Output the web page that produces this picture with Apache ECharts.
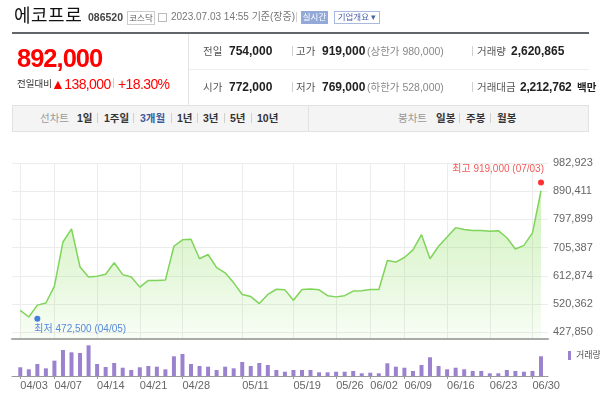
<!DOCTYPE html>
<html>
<head>
<meta charset="utf-8">
<script src="https://cdn.jsdelivr.net/npm/echarts@6/dist/echarts.min.js"></script>
<style>
  html, body { margin: 0; padding: 0; background: #fff; }
  body { width: 600px; height: 398px; overflow: hidden; position: relative;
         font-family: "Liberation Sans", "Noto Sans CJK KR", sans-serif; }
  #chart { position: absolute; left: 0; top: 0; width: 600px; height: 398px; }
  .t { position: absolute; white-space: nowrap; line-height: 1; z-index: 2; }
  .b { font-weight: bold; }
  .red { color: #f00; }
  .lbl { font-size: 10.5px; color: #555; }
  .num { font-size: 12px; font-weight: bold; color: #222; }
  .gray { font-size: 10.5px; color: #888; }
  .sep { position: absolute; width: 1px; height: 10px; background: #d0d0d0; z-index: 2; }
  .tb { font-size: 10.5px; color: #333; font-weight: bold; }
</style>
</head>
<body>
<!-- header -->
<div class="t" style="left:14px;top:7px;font-size:18px;color:#111;letter-spacing:0.5px;">에코프로</div>
<div class="t b" style="left:88px;top:12px;font-size:10.5px;color:#444;">086520</div>
<div class="t" style="left:127px;top:11px;width:26px;height:12px;border:1px solid #ccc;font-size:8.5px;color:#555;text-align:center;line-height:12px;">코스닥</div>
<div class="t" style="left:158px;top:13px;width:7px;height:7px;border:1px solid #bbb;"></div>
<div class="t" style="left:171px;top:12px;font-size:10px;color:#777;">2023.07.03 14:55 기준(장중)</div>
<div class="sep" style="left:296px;top:12px;"></div>
<div class="t" style="left:301px;top:11px;width:27px;height:13px;background:#93a9d8;color:#fff;font-size:8.5px;text-align:center;line-height:13px;">실시간</div>
<div class="t" style="left:334px;top:11px;width:44px;height:11px;border:1px solid #a9b9e0;color:#4a63a8;font-size:8.5px;text-align:center;line-height:11px;">기업개요 ▾</div>

<div class="t" style="left:12px;top:32px;width:577px;height:2px;background:#62666c;"></div>
<div class="t" style="left:188px;top:34px;width:1px;height:71px;background:#e3e3e3;"></div>
<div class="t" style="left:189px;top:69px;width:400px;height:1px;background:#eee;"></div>

<div class="t b red" style="left:17px;top:46px;font-size:25.5px;letter-spacing:-1px;">892,000</div>
<div class="t" style="left:17px;top:79px;font-size:9.5px;color:#333;">전일대비</div>
<div class="t red" style="left:51px;top:77px;font-size:14px;letter-spacing:-0.6px;">▲138,000</div>
<div class="sep" style="left:113px;top:78px;"></div>
<div class="t red" style="left:118px;top:77px;font-size:14px;letter-spacing:-0.6px;">+18.30%</div>

<div class="t lbl" style="left:203px;top:46px;">전일</div>
<div class="t num" style="left:229px;top:45px;">754,000</div>
<div class="sep" style="left:292px;top:46px;"></div>
<div class="t lbl" style="left:296px;top:46px;">고가</div>
<div class="t num red" style="left:322px;top:45px;">919,000</div>
<div class="t gray" style="left:367px;top:46px;">(상한가 980,000)</div>
<div class="sep" style="left:472px;top:46px;"></div>
<div class="t lbl" style="left:477px;top:46px;">거래량</div>
<div class="t num" style="left:511px;top:45px;">2,620,865</div>

<div class="t lbl" style="left:203px;top:82px;">시가</div>
<div class="t num red" style="left:229px;top:81px;">772,000</div>
<div class="sep" style="left:292px;top:82px;"></div>
<div class="t lbl" style="left:296px;top:82px;">저가</div>
<div class="t num red" style="left:322px;top:81px;">769,000</div>
<div class="t gray" style="left:367px;top:82px;">(하한가 528,000)</div>
<div class="sep" style="left:472px;top:82px;"></div>
<div class="t lbl" style="left:477px;top:82px;">거래대금</div>
<div class="t num" style="left:520px;top:81px;letter-spacing:-0.2px;">2,212,762</div>
<div class="t" style="left:577px;top:82px;font-size:10.5px;color:#222;font-weight:bold;">백만</div>

<div class="t" style="left:12px;top:105px;width:575px;height:25px;background:#f4f4f4;border:1px solid #e2e2e2;z-index:1;"></div>
<div class="t" style="left:308px;top:106px;width:1px;height:25px;background:#e2e2e2;"></div>
<div class="t" style="left:40px;top:113px;font-size:10.5px;color:#999;">선차트</div>
<div class="t tb" style="left:77px;top:113px;">1일</div>
<div class="sep" style="left:97px;top:113px;"></div>
<div class="t tb" style="left:104px;top:113px;">1주일</div>
<div class="sep" style="left:133px;top:113px;"></div>
<div class="t tb" style="left:140px;top:113px;color:#3c5a9a;">3개월</div>
<div class="sep" style="left:171px;top:113px;"></div>
<div class="t tb" style="left:177px;top:113px;">1년</div>
<div class="sep" style="left:197px;top:113px;"></div>
<div class="t tb" style="left:203px;top:113px;">3년</div>
<div class="sep" style="left:224px;top:113px;"></div>
<div class="t tb" style="left:230px;top:113px;">5년</div>
<div class="sep" style="left:251px;top:113px;"></div>
<div class="t tb" style="left:257px;top:113px;">10년</div>
<div class="t" style="left:398px;top:113px;font-size:10.5px;color:#999;">봉차트</div>
<div class="t tb" style="left:436px;top:113px;">일봉</div>
<div class="sep" style="left:459px;top:113px;"></div>
<div class="t tb" style="left:466px;top:113px;">주봉</div>
<div class="sep" style="left:490px;top:113px;"></div>
<div class="t tb" style="left:497px;top:113px;">월봉</div>

<div id="chart"></div>

<script>
// trading days, 2023-04-03 ~ 2023-07-03
const dates = [
  '04/03','04/04','04/05','04/06','04/07','04/10','04/11','04/12','04/13','04/14',
  '04/17','04/18','04/19','04/20','04/21','04/24','04/25','04/26','04/27','04/28',
  '05/02','05/03','05/04','05/08','05/09','05/10','05/11','05/12','05/15','05/16',
  '05/17','05/18','05/19','05/22','05/23','05/24','05/25','05/26','05/30','05/31',
  '06/01','06/02','06/05','06/07','06/08','06/09','06/12','06/13','06/14','06/15',
  '06/16','06/19','06/20','06/21','06/22','06/23','06/26','06/27','06/28','06/29',
  '06/30','07/03'
]
// closing prices
const closes = [
  500000, 478000, 517000, 524000, 579000, 724000, 767000, 642000, 609000, 612000,
  618000, 656000, 617000, 609000, 576000, 598000, 598000, 599000, 710000, 731000,
  733000, 669000, 683000, 640000, 623000, 590000, 552000, 545000, 522000, 552000,
  569000, 567000, 533000, 568000, 570000, 567000, 548000, 544000, 548000, 563000,
  564000, 568000, 568000, 663000, 658000, 673000, 698000, 748000, 669000, 710000,
  740000, 771000, 765000, 762000, 762000, 759000, 761000, 738000, 701000, 713000,
  754000, 892000
]
// volume (shares)
const volumes = [
  1160000, 890000, 1600000, 1020000, 2040000, 3460000, 3150000, 3060000, 4080000, 1600000,
  1200000, 1730000, 1100000, 800000, 1160000, 1330000, 1240000, 890000, 2620000, 2930000,
  1600000, 1330000, 1240000, 800000, 1240000, 1020000, 1860000, 1330000, 1730000, 1460000,
  800000, 570000, 800000, 800000, 800000, 490000, 490000, 570000, 570000, 670000,
  360000, 440000, 360000, 1690000, 1240000, 1100000, 670000, 1460000, 2490000, 1330000,
  890000, 1100000, 890000, 670000, 670000, 360000, 360000, 800000, 670000, 570000,
  670000, 2620865
]
const priceTicks = [427850, 520362, 612874, 705387, 797899, 890411, 982923]
const labelDates = ['04/03','04/07','04/14','04/21','04/28','05/11','05/19','05/26','06/02','06/09','06/16','06/23','06/30']
const lowDate = '04/05'
const lowPrice = 472500
const highDate = '07/03'
const highPrice = 919000

const labelIdx = labelDates.map(d => dates.indexOf(d))
const fmt = v => Math.round(v).toLocaleString('en-US')
const FONT = '"Liberation Sans", "Noto Sans CJK KR", sans-serif'

const chart = echarts.init(document.getElementById('chart'))

const xBase = {
  type: 'value',
  min: -0.97,
  max: 61.82
}

const option = {
  animation: false,
  textStyle: { fontFamily: FONT },
  legend: {
    data: ['거래량'],
    left: 563,
    top: 346,
    icon: 'rect',
    itemWidth: 3,
    itemHeight: 9,
    itemGap: 3,
    textStyle: { fontSize: 9, color: '#555', fontFamily: FONT }
  },
  grid: [
    { left: 12, right: 52, top: 163, height: 176 },
    { left: 12, right: 52, top: 340, height: 36 }
  ],
  xAxis: [
    Object.assign({}, xBase, {
      gridIndex: 0,
      axisLine: { show: true, lineStyle: { color: '#aaa', width: 2 } },
      axisTick: { show: false, customValues: labelIdx },
      axisLabel: { show: false, customValues: labelIdx },
      splitLine: { show: true, lineStyle: { color: '#ececec', width: 1 } }
    }),
    Object.assign({}, xBase, {
      gridIndex: 1,
      axisLine: { show: true, lineStyle: { color: '#999', width: 1 } },
      axisTick: { show: true, customValues: labelIdx, length: 3, lineStyle: { color: '#999' } },
      axisLabel: {
        customValues: labelIdx,
        formatter: v => dates[Math.round(v)],
        align: 'left',
        margin: 4,
        color: '#666',
        fontSize: 11,
        fontFamily: FONT
      },
      splitLine: { show: false }
    })
  ],
  yAxis: [
    {
      type: 'value',
      gridIndex: 0,
      position: 'right',
      min: 405900,
      max: 982923,
      axisLine: { show: false },
      axisTick: { show: false, customValues: priceTicks },
      axisLabel: {
        customValues: priceTicks,
        formatter: fmt,
        margin: 5,
        color: '#666',
        fontSize: 11,
        fontFamily: FONT
      },
      splitLine: { show: true, lineStyle: { color: '#ececec', width: 1 } }
    },
    {
      type: 'value',
      gridIndex: 1,
      min: 0,
      max: 4788000,
      show: false,
      splitLine: { show: false }
    }
  ],
  series: [
    {
      name: '종가',
      type: 'line',
      xAxisIndex: 0,
      yAxisIndex: 0,
      data: closes.map((v, i) => [i, v]),
      showSymbol: false,
      lineStyle: { color: '#7fd45a', width: 1.5 },
      itemStyle: { color: '#7fd45a' },
      areaStyle: {
        origin: 'start',
        color: new echarts.graphic.LinearGradient(0, 0, 0, 1, [
          { offset: 0, color: 'rgba(130,220,80,0.55)' },
          { offset: 1, color: 'rgba(130,220,80,0.08)' }
        ])
      },
      z: 2
    },
    {
      name: '최저',
      type: 'scatter',
      xAxisIndex: 0,
      yAxisIndex: 0,
      data: [[dates.indexOf(lowDate), lowPrice]],
      symbolSize: 6,
      itemStyle: { color: '#1a5fd8' },
      label: {
        show: true,
        position: [0, 9],
        align: 'left',
        formatter: () => '최저 ' + fmt(lowPrice) + ' (' + lowDate + ')',
        color: '#2e6bd6',
        fontSize: 10,
        fontFamily: FONT
      },
      z: 5
    },
    {
      name: '최고',
      type: 'scatter',
      xAxisIndex: 0,
      yAxisIndex: 0,
      data: [[dates.indexOf(highDate), highPrice]],
      symbolSize: 6,
      itemStyle: { color: '#f00' },
      label: {
        show: true,
        position: [6, -15],
        align: 'right',
        formatter: () => '최고 ' + fmt(highPrice) + ' (' + highDate + ')',
        color: '#f03030',
        fontSize: 10,
        fontFamily: FONT
      },
      z: 5
    },
    {
      name: '거래량',
      type: 'bar',
      xAxisIndex: 1,
      yAxisIndex: 1,
      data: volumes.map((v, i) => [i, v]),
      barWidth: 4,
      itemStyle: { color: '#9b82cf' }
    }
  ]
}

chart.setOption(option)
</script>
</body>
</html>
